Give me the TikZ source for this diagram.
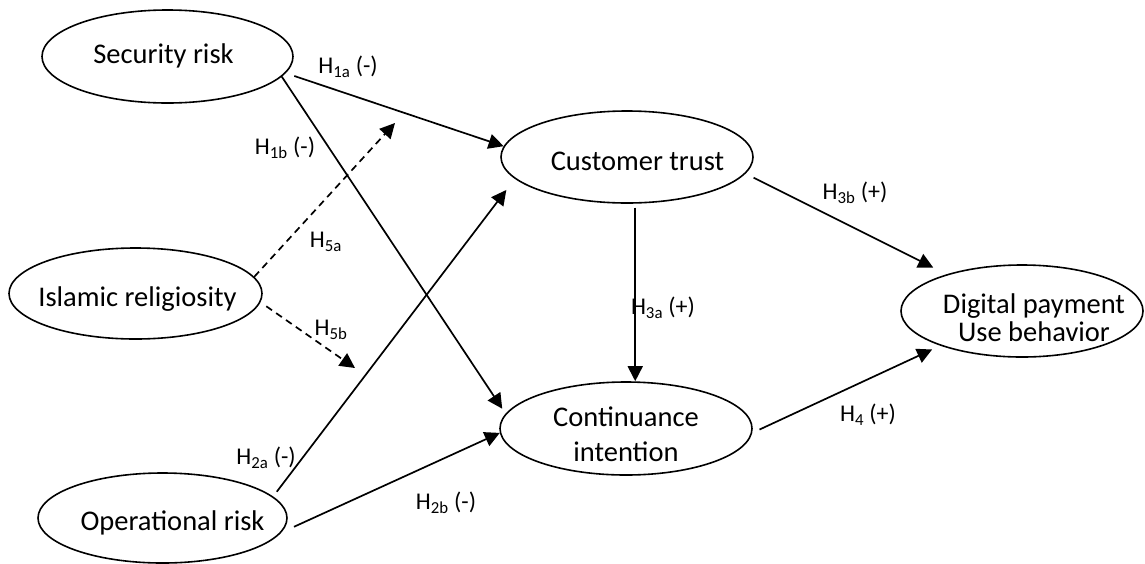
\documentclass[tikz,border=0pt]{standalone}
\usepackage{fontspec}
\setmainfont{Carlito}
\usepackage{tikz}
\usetikzlibrary{arrows.meta}
\usetikzlibrary{shapes.geometric}
\usetikzlibrary{positioning}

% text of a construct, moved by (#1/2, #2) from the centre of its ellipse
\newcommand{\ctext}[3]{\smash{\raisebox{#2}{\makebox[0pt]{\hspace*{#1}\begin{tabular}[t]{@{}c@{}}#3\end{tabular}}}}}

\tikzset{
  construct/.style={draw, ellipse, line width=1.6pt, inner sep=0pt, minimum width=252pt, minimum height=92pt, font=\fontsize{28.5}{35}\selectfont},
  hyp/.style={line width=1.7pt, -{Triangle[length=15pt, width=15pt]}},
  moder/.style={hyp, dash pattern=on 7pt off 5pt},
  hlabel/.style={inner sep=0pt, font=\fontsize{24}{28}\selectfont}
}

\begin{document}
\begin{tikzpicture}[x=1pt, y=-1pt]
      \useasboundingbox (0, 0) rectangle (1145, 563);

      \node [construct, minimum width=251pt, minimum height=93pt] (sec) at (167.5, 56.5) {\ctext{-8pt}{-7pt}{Security risk}};
      \node [construct, minimum width=253pt, minimum height=91pt] (isl) at (135.5, 293.5) {\ctext{4pt}{-13pt}{Islamic religiosity}};
      \node [construct, minimum width=249pt, minimum height=90pt] (ops) at (162.5, 518) {\ctext{20pt}{-12pt}{Operational risk}};
      \node [construct] (trust) at (627, 157) {\ctext{21pt}{-13pt}{Customer trust}};
      \node [construct, minimum height=93pt] (cont) at (626, 428.5) {\ctext{0pt}{2pt}{Continuance\\intention}};
      \node [construct, minimum width=242pt, font=\fontsize{28.5}{28}\selectfont] (dig) at (1022, 311) {\ctext{24pt}{-2pt}{Digital payment\\Use behavior}};

      \coordinate (m5a) at (395, 123);
      \coordinate (m5b) at (355, 368);

      \draw [hyp, shorten <=9pt] (sec.-8) -- (trust.175);
      \draw [hyp, shorten >=6pt] (sec.-10) -- (cont.173);
      \draw [moder] (isl.8) -- (m5a);
      \draw [moder, shorten <=7pt] (isl.-4) -- (m5b);
      \draw [hyp, shorten <=6pt, shorten >=14pt] (ops.11) -- (trust.191);
      \draw [hyp, shorten <=14pt] (ops.-7) -- (cont.182);
      \draw [hyp, shorten <=4pt] (trust.-80) -- (trust.-80 |- cont.north);
      \draw [hyp, shorten <=9pt, shorten >=15pt] (trust.-8) -- (dig.154);
      \draw [hyp, shorten <=8pt, shorten >=9pt] (cont.-2) -- (dig.-157);

      \node [hlabel] (h1a) at (348, 67) {H\textsubscript{1a} (-)};
      \node [hlabel] (h1b) at (285, 148) {H\textsubscript{1b} (-)};
      \node [hlabel] (h5a) at (326, 242) {H\textsubscript{5a}};
      \node [hlabel] (h5b) at (331, 330) {H\textsubscript{5b}};
      \node [hlabel] (h2a) at (266, 458) {H\textsubscript{2a} (-)};
      \node [hlabel] (h2b) at (446, 503) {H\textsubscript{2b} (-)};
      \node [hlabel] (h3a) at (663, 308) {H\textsubscript{3a} (+)};
      \node [hlabel] (h3b) at (855, 193) {H\textsubscript{3b} (+)};
      \node [hlabel] (h4) at (868, 415) {H\textsubscript{4} (+)};
\end{tikzpicture}
\end{document}
